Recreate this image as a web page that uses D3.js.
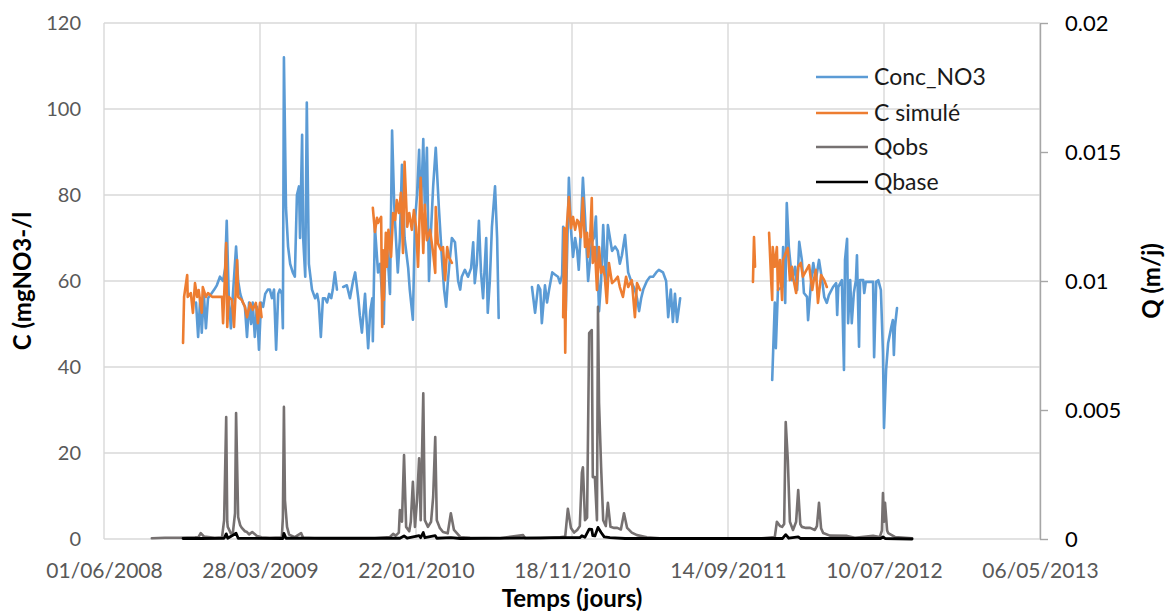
<!DOCTYPE html>
<html><head><meta charset="utf-8">
<script src="https://cdn.jsdelivr.net/npm/d3@7"></script>
<style>body{margin:0;background:#fff} svg{display:block} text{font-family:Lato,"Open Sans",sans-serif}</style>
</head><body><svg id="chart" width="1173" height="613"></svg>
<script>
// ---------- DATA ----------
const xTickLabels = ["01/06/2008","28/03/2009","22/01/2010","18/11/2010","14/09/2011","10/07/2012","06/05/2013"];
const cTicks = [0,20,40,60,80,100,120];
const qTicks = [0,0.005,0.01,0.015,0.02];
const seriesNames = ["Conc_NO3","C simulé","Qobs","Qbase"];

const concDates = ["2008-11-25","2008-11-29","2008-12-03","2008-12-06","2008-12-10","2008-12-14","2008-12-18","2008-12-24","2008-12-30","2009-01-04","2009-01-10","2009-01-16","2009-01-20","2009-01-23","2009-01-27","2009-01-31","2009-02-04","2009-02-10","2009-02-14","2009-02-18","2009-02-23","2009-02-27","2009-03-03","2009-03-07","2009-03-11","2009-03-14","2009-03-18","2009-03-22","2009-03-26","2009-03-30","2009-04-03","2009-04-07","2009-04-12","2009-04-16","2009-04-20","2009-04-24","2009-04-28","2009-05-02","2009-05-05","2009-05-09","2009-05-11","2009-05-13","2009-05-17","2009-05-21","2009-05-25","2009-05-30","2009-06-03","2009-06-07","2009-06-11","2009-06-13","2009-06-17","2009-06-19","2009-06-23","2009-06-26","2009-06-30","2009-07-06","2009-07-12","2009-07-16","2009-07-19","2009-07-23","2009-07-27","2009-07-31","2009-08-04","2009-08-08","2009-08-12","2009-08-15","2009-08-19","2009-08-23","2009-08-28",
"2009-09-04","2009-09-11","2009-09-17","2009-09-23","2009-09-27","2009-10-03","2009-10-06","2009-10-10","2009-10-16","2009-10-22","2009-10-26","2009-10-30","2009-10-31","2009-11-04","2009-11-10","2009-11-14","2009-11-18","2009-11-21","2009-11-23","2009-11-27","2009-12-03","2009-12-07","2009-12-11","2009-12-13","2009-12-18","2009-12-22","2009-12-26","2009-12-31","2010-01-07","2010-01-10","2010-01-16","2010-01-20","2010-01-24","2010-01-28","2010-01-31","2010-02-05","2010-02-08","2010-02-12","2010-02-16","2010-02-20","2010-02-24","2010-03-01","2010-03-07","2010-03-13","2010-03-17","2010-03-21","2010-03-24","2010-03-28","2010-04-01","2010-04-07","2010-04-13","2010-04-17","2010-04-20","2010-04-26","2010-05-02","2010-05-08","2010-05-12","2010-05-15","2010-05-19","2010-05-23","2010-05-27","2010-05-31","2010-06-06","2010-06-09","2010-06-13","2010-06-17","2010-06-23","2010-06-27","2010-06-30","2010-07-20",
"2010-09-02","2010-09-08","2010-09-14","2010-09-18","2010-09-21","2010-09-27","2010-10-01","2010-10-05","2010-10-11","2010-10-16","2010-10-22","2010-10-26","2010-10-30","2010-11-01","2010-11-06","2010-11-12","2010-11-16","2010-11-20","2010-11-24","2010-11-28","2010-12-01","2010-12-05","2010-12-09","2010-12-13","2010-12-19","2010-12-23","2010-12-26","2010-12-30","2011-01-03","2011-01-09","2011-01-13","2011-01-17","2011-01-22","2011-01-26","2011-01-30","2011-02-03","2011-02-09","2011-02-14","2011-02-18","2011-02-22","2011-02-28","2011-03-06","2011-03-13","2011-03-19","2011-03-23","2011-03-27","2011-03-31","2011-04-04","2011-04-11","2011-04-17","2011-04-23","2011-04-29","2011-05-04","2011-05-12","2011-05-18","2011-05-22","2011-05-27","2011-05-31","2011-06-04","2011-06-08","2011-06-14","2011-09-01",
"2011-12-08","2011-12-13","2011-12-15","2011-12-19","2011-12-27","2011-12-29","2012-01-02","2012-01-05","2012-01-09","2012-01-15","2012-01-21","2012-01-25","2012-01-29","2012-02-03","2012-02-07","2012-02-13","2012-02-15","2012-02-21","2012-02-25","2012-03-01","2012-03-07","2012-03-13","2012-03-17","2012-03-22","2012-03-26","2012-04-03","2012-04-09","2012-04-11","2012-04-13","2012-04-20","2012-04-24","2012-04-26","2012-04-30","2012-05-02","2012-05-06","2012-05-09","2012-05-13","2012-05-17","2012-05-19","2012-05-23","2012-05-25","2012-05-31","2012-06-02","2012-06-05","2012-06-19","2012-06-21","2012-06-25","2012-06-29","2012-07-04","2012-07-08","2012-07-10","2012-07-14","2012-07-18","2012-07-24","2012-07-27","2012-07-29","2012-07-31","2012-08-04"];
const concValues = [55,47,56,48,57,49,56,57,58,59,61,60,63,74,56,49,57,68,60,57,55,54,47,55,50,55,47,54,44,55,54,57,58,58,56,58,44,57,58,57,49,112,77,68,64,62,61,80,82,70,94,70,61,101.5,64,58,56,57,55,47,56,56,55,57,56,58,62,58,null,
58.6,59,56,60,62,56,52,48,57,44.4,53,56,46,72.6,62,64,56,50,62,69,57,95,78,73,62,70,87,70,63,58,51,74,80,90.5,75,93,76.5,91,60,72,82,91,77,65,58,54,59.5,65,70,69,60,58,61,62.6,61,63,69,59.5,64,74,62,56,70,52.6,60,72.6,82,70,51.4,null,
58.6,52.6,59,58,50.2,59,55,58,62,61.5,61,59.5,61.4,72.6,53,84,72,65.6,70,67,62.6,72,84,75,60,65,69,70,75,53,60,73,59.5,73,70,67,68,67,64,66,70.7,62,59.5,58,56,53,56,58,60,61,61,62,62.6,62,60,51.6,58,50.5,57,50.5,56,null,
37,55,44.4,57.9,58.6,67.9,54.9,78.1,67.9,60.2,63.3,57.9,69.1,64.9,57.2,56.3,50.9,60.2,64.2,60.2,64.9,60.2,56.3,54.9,56.7,58.6,59.5,52.1,58.6,60.2,39.3,64.9,69.8,50.2,60.2,50.2,57.2,60.2,66,44.7,60.2,60.2,57.2,59.8,59.8,42.3,59.8,60.2,57.9,43.3,25.8,39.3,45.6,49.3,50.9,42.8,49.3,53.7];

const simDates = ["2008-10-31","2008-11-02","2008-11-08","2008-11-09","2008-11-15","2008-11-19","2008-11-23","2008-11-27","2008-11-30","2008-12-06","2008-12-08","2008-12-14","2008-12-18","2008-12-26","2009-01-04","2009-01-14","2009-01-16","2009-01-22","2009-01-24","2009-01-27","2009-02-02","2009-02-06","2009-02-12","2009-02-14","2009-02-21","2009-02-27","2009-03-03","2009-03-09","2009-03-14","2009-03-20","2009-03-24","2009-03-28","2009-03-31","2009-07-01",
"2009-10-31","2009-11-04","2009-11-08","2009-11-10","2009-11-16","2009-11-18","2009-11-19","2009-11-21","2009-11-25","2009-11-27","2009-11-30","2009-12-05","2009-12-09","2009-12-13","2009-12-16","2009-12-20","2009-12-24","2009-12-28","2009-12-31","2010-01-05","2010-01-09","2010-01-14","2010-01-18","2010-01-22","2010-01-26","2010-01-31","2010-02-05","2010-02-08","2010-02-12","2010-02-18","2010-02-24","2010-02-28","2010-03-01","2010-03-05","2010-03-11","2010-03-15","2010-03-19","2010-03-23","2010-03-26","2010-04-01","2010-07-01",
"2010-11-01","2010-11-03","2010-11-05","2010-11-08","2010-11-12","2010-11-16","2010-11-20","2010-11-24","2010-11-28","2010-12-01","2010-12-05","2010-12-09","2010-12-13","2010-12-17","2010-12-19","2010-12-23","2010-12-26","2010-12-28","2011-01-01","2011-01-05","2011-01-09","2011-01-13","2011-01-17","2011-01-20","2011-01-24","2011-01-28","2011-02-03","2011-02-09","2011-02-14","2011-02-18","2011-02-24","2011-03-02","2011-03-06","2011-03-13","2011-03-19","2011-03-23","2011-03-29","2011-07-01",
"2011-11-01","2011-11-03","2011-11-05","2011-11-20",
"2011-12-02","2011-12-06","2011-12-08","2011-12-09","2011-12-13","2011-12-17","2011-12-19","2011-12-23","2011-12-27","2011-12-29","2012-01-03","2012-01-07","2012-01-11","2012-01-15","2012-01-17","2012-01-23","2012-01-27","2012-02-01","2012-02-05","2012-02-17","2012-02-23","2012-02-26","2012-03-01","2012-03-05","2012-03-11","2012-03-17","2012-03-22"];
const simValues = [45.6,56.3,61.4,56.3,57.2,52.6,59.5,56.3,57.9,52.6,58.6,56.3,57.2,56.3,56.3,56.3,50.2,68.8,49.3,56.3,55.6,49.3,64.9,56.3,55.6,54,51.6,54.9,53.3,54.9,50.2,54.9,51.6,null,
77,71.4,74.7,73.5,74.9,49.3,67.2,55.6,71.2,63.3,71.9,65.6,75.8,74.2,78.8,75.8,80.5,66.5,87.7,72.6,75.8,71.9,76.5,72.6,63.3,84,66.5,77.7,69.5,71.9,66.5,61.9,77.2,68.8,67.2,67.9,60.2,67.9,65.6,64.2,null,
51.6,72.3,43.3,72.6,79.5,72.3,74.9,71.9,74.2,73.7,70.2,79.3,67.9,71.2,65.6,70.2,79.3,64.2,67.9,57.9,67.9,61.9,63.3,61,54.9,64.2,59.5,60.2,61,58.6,56.3,61,58.6,60.2,51.6,59.5,57.9,null,
59.8,70.2,63.3,null,
71.2,60.2,55.6,67.9,63.3,67.9,57.9,64.9,55.6,64.9,66.5,67.7,60.2,63.3,61,57.2,63.3,64.2,61,63.7,57.9,60.2,62.6,54.9,61.4,60.2,58.6];

const qobsDates = ["2008-09-01","2008-09-26","2008-10-25","2008-11-23","2008-11-30","2008-12-04","2008-12-10","2008-12-31","2009-01-14","2009-01-18","2009-01-22","2009-01-24","2009-01-25","2009-01-31","2009-02-04","2009-02-08","2009-02-10","2009-02-14","2009-02-18","2009-02-21","2009-02-27","2009-03-03","2009-03-07","2009-03-13","2009-03-22","2009-03-31","2009-04-16","2009-05-09","2009-05-11","2009-05-13","2009-05-15","2009-05-19","2009-05-23","2009-06-03","2009-06-15","2009-06-19","2009-07-21","2009-09-17","2009-11-04","2009-12-03","2009-12-09","2009-12-14","2009-12-20","2009-12-22","2009-12-26","2009-12-30","2010-01-03","2010-01-09","2010-01-12","2010-01-16","2010-01-20","2010-01-24","2010-01-28","2010-01-31","2010-02-05","2010-02-08","2010-02-14","2010-02-20","2010-02-24","2010-02-28","2010-03-03","2010-03-09","2010-03-15","2010-03-24","2010-03-30","2010-04-05","2010-04-17","2010-05-06","2010-07-03","2010-08-16","2010-08-20","2010-09-18","2010-10-26","2010-11-05","2010-11-10","2010-11-16","2010-11-22","2010-11-28","2010-12-03","2010-12-07","2010-12-09","2010-12-13","2010-12-17","2010-12-21","2010-12-26","2010-12-28","2011-01-01","2011-01-05","2011-01-07","2011-01-09","2011-01-13","2011-01-17","2011-01-22","2011-01-26","2011-01-31","2011-02-07","2011-02-13","2011-02-20","2011-02-26","2011-03-04","2011-03-13","2011-03-23","2011-04-11","2011-05-06","2011-07-22","2011-11-14","2011-12-13","2011-12-17","2011-12-23","2011-12-27","2011-12-31","2012-01-03","2012-01-07","2012-01-11","2012-01-17","2012-01-23","2012-01-27","2012-01-31","2012-02-03","2012-02-11","2012-02-19","2012-02-28","2012-03-03","2012-03-07","2012-03-11","2012-03-15","2012-03-28","2012-04-30","2012-05-15","2012-06-19","2012-07-02","2012-07-06","2012-07-08","2012-07-10","2012-07-12","2012-07-16","2012-07-18","2012-07-31","2012-09-02"];
const qobsValues = [0.00003,0.00005,0.00005,0.00007,0.00008,0.00023,0.0001,0.00005,0.00007,0.00073,0.00473,0.00067,0.00047,0.00022,0.00027,0.001,0.00488,0.00085,0.00053,0.00043,0.0003,0.00027,0.00018,0.00027,0.00012,0.00007,0.00005,0.00007,0.00083,0.00512,0.0015,0.00047,0.00017,0.00007,0.00023,0.00005,0.00002,0.00002,0.00003,0.00008,0.0002,0.00013,0.00025,0.00112,0.00067,0.00325,0.00047,0.0003,0.00067,0.00222,0.00047,0.0015,0.00313,0.00073,0.00565,0.00073,0.00047,0.00067,0.00163,0.00395,0.00073,0.00042,0.00027,0.00022,0.001,0.00035,0.00008,0.00005,0.00003,0.00015,0.00003,0.00003,0.00007,0.0001,0.00117,0.00043,0.00025,0.00035,0.0005,0.00257,0.00278,0.00073,0.00083,0.00798,0.0081,0.0024,0.0024,0.00073,0.009,0.00527,0.00278,0.00073,0.0005,0.0014,0.00047,0.00043,0.00043,0.00037,0.001,0.00043,0.00025,0.00015,0.00007,0.00003,0.00002,0.00002,0.00008,0.00067,0.0005,0.00047,0.00058,0.00453,0.00307,0.00067,0.00035,0.00067,0.0019,0.00058,0.00047,0.00043,0.00043,0.00035,0.0005,0.0014,0.00042,0.00023,0.00013,0.00012,0.00005,0.00012,0.00008,0.00033,0.00178,0.00067,0.0014,0.00033,0.00023,0.00008,0.00003];

const qbaseDates = ["2008-10-31","2008-12-03","2009-01-18","2009-01-22","2009-01-25","2009-02-10","2009-02-14","2009-05-11","2009-05-13","2009-05-17","2009-12-22","2009-12-30","2010-01-05","2010-01-28","2010-01-31","2010-02-05","2010-02-08","2010-02-28","2010-03-03","2010-03-30","2010-04-17","2010-11-10","2010-12-03","2010-12-07","2010-12-13","2010-12-21","2010-12-26","2010-12-28","2011-01-01","2011-01-07","2011-01-13","2011-01-19","2011-01-30","2011-02-28","2011-12-28","2012-01-03","2012-01-09","2012-01-27","2012-01-31","2012-07-04","2012-07-08","2012-07-12","2012-09-02"];
const qbaseValues = [0.00002,0.00002,0.00003,0.0002,0.00003,0.00022,0.00003,0.00002,0.00022,0.00003,0.00003,0.00012,0.00003,0.00013,0.00005,0.00025,0.00005,0.00013,0.00003,0.00005,0.00002,0.00005,0.00005,0.00013,0.00007,0.00038,0.00037,0.00013,0.00012,0.00045,0.00025,0.00008,0.00005,0.00002,0.00002,0.00017,0.00003,0.00008,0.00002,0.00002,0.00008,0.00002,0];

const colors = ["#5B9BD5","#ED7D31","#767171","#000000"];

// ---------- CHART ----------
const svg = d3.select("#chart");
const parseISO = d3.utcParse("%Y-%m-%d");
const parseTick = d3.utcParse("%d/%m/%Y");
const fmtTick = d3.utcFormat("%d/%m/%Y");
const L = 104, R = 1040, T = 23, B = 539;
const xTicks = xTickLabels.map(parseTick);
const x = d3.scaleUtc().domain([xTicks[0], xTicks[xTicks.length-1]]).range([L, R]);
const yC = d3.scaleLinear().domain([0,120]).range([B, T]);
const yQ = d3.scaleLinear().domain([0,0.02]).range([B, T]);

// gridlines
const grid = svg.append("g");
grid.selectAll("line.h").data(cTicks).join("line")
  .attr("x1", L).attr("x2", R).attr("y1", d=>yC(d)).attr("y2", d=>yC(d))
  .attr("stroke", "#d9d9d9").attr("stroke-width", 1.4);
grid.selectAll("line.v").data(xTicks).join("line")
  .attr("x1", d=>x(d)).attr("x2", d=>x(d)).attr("y1", T).attr("y2", B)
  .attr("stroke", "#d9d9d9").attr("stroke-width", 1.4);

// left axis
const gl = svg.append("g").attr("transform", `translate(${L},0)`)
  .call(d3.axisLeft(yC).tickValues(cTicks).tickSize(0).tickPadding(23));
gl.select(".domain").remove();
gl.selectAll("text").attr("fill","#595959").style("font-size","20px").style("font-family","Lato");

// bottom axis
const gb = svg.append("g").attr("transform", `translate(0,${B})`)
  .call(d3.axisBottom(x).tickValues(xTicks).tickFormat(fmtTick).tickSize(0).tickPadding(24));
gb.select(".domain").remove();
gb.selectAll("text").attr("fill","#595959").style("font-size","21px").style("font-family","Lato");

// right axis
const gr = svg.append("g").attr("transform", `translate(${R},0)`)
  .call(d3.axisRight(yQ).tickValues(qTicks).tickFormat(d=>String(d)).tickSize(8).tickSizeOuter(0).tickPadding(17));
gr.select(".domain").attr("stroke","#a6a6a6").attr("stroke-width",1.4);
gr.selectAll(".tick line").attr("stroke","#a6a6a6").attr("stroke-width",1.4);
gr.selectAll("text").attr("fill","#000").style("font-size","22px").style("font-family","Lato");

// series
function mk(dates, vals){ return dates.map((d,i)=>({d:parseISO(d), v:vals[i]})); }
const series = [
  {data: mk(concDates, concValues), y: yC},
  {data: mk(simDates, simValues), y: yC},
  {data: mk(qobsDates, qobsValues), y: yQ},
  {data: mk(qbaseDates, qbaseValues), y: yQ}
];
series.forEach((s,i)=>{
  const line = d3.line().defined(p=>p.v!=null).x(p=>x(p.d)).y(p=>s.y(p.v));
  svg.append("path").datum(s.data).attr("d", line)
    .attr("fill","none").attr("stroke", colors[i]).attr("stroke-width", i===3?2.8:2.6)
    .attr("stroke-linejoin","round").attr("stroke-linecap","round");
});

// legend
const lg = svg.append("g");
const legY = [77,113,147,182];
seriesNames.forEach((n,i)=>{
  lg.append("line").attr("x1",816).attr("x2",868).attr("y1",legY[i]).attr("y2",legY[i])
    .attr("stroke",colors[i]).attr("stroke-width",2.6);
  lg.append("text").attr("x",874).attr("y",legY[i]).attr("dy","0.35em")
    .attr("fill","#1a1a1a").style("font-size","23px").text(n);
});

// axis titles
svg.append("text").attr("transform","translate(23,281) rotate(-90)").attr("text-anchor","middle").attr("dy","0.35em")
  .style("font-size","24px").style("font-weight","bold").attr("fill","#000").text("C (mgNO3-/l");
svg.append("text").attr("transform","translate(1152,281) rotate(-90)").attr("text-anchor","middle").attr("dy","0.35em")
  .style("font-size","24px").style("font-weight","bold").attr("fill","#000").text("Q (m/j)");
svg.append("text").attr("x",572).attr("y",607).attr("text-anchor","middle")
  .style("font-size","24px").style("font-weight","bold").attr("fill","#000").text("Temps (jours)");
</script></body></html>
